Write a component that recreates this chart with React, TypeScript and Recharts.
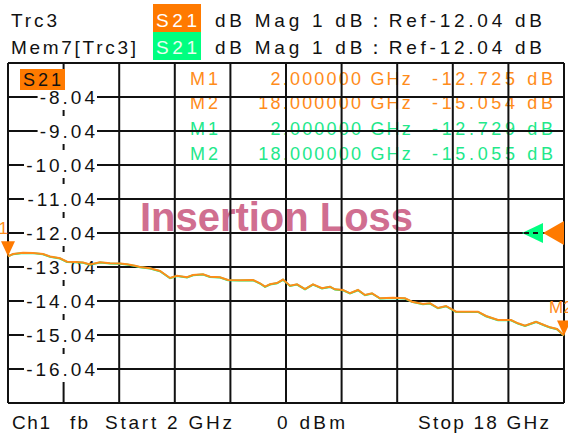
import { LineChart, Line, XAxis, YAxis, CartesianGrid, ReferenceDot } from 'recharts'

// trace, GHz / dB
const freqs = [
  2.0, 2.144, 2.432, 2.719, 3.007, 3.209, 3.496, 3.698, 3.928, 4.158, 4.36, 4.647, 4.935, 5.223,
  5.424, 5.655, 5.799, 6.086, 6.374, 6.662, 6.863, 7.151, 7.324, 7.612, 7.813, 8.101, 8.331,
  8.676, 9.05, 9.252, 9.396, 9.54, 9.741, 9.914, 10.115, 10.317, 10.547, 10.777, 11.036, 11.266,
  11.41, 11.64, 11.842, 12.072, 12.273, 12.475, 12.705, 13.079, 13.424, 13.626, 13.942, 14.144,
  14.374, 14.604, 14.892, 15.237, 15.525, 15.755, 16.101, 16.475, 16.676, 16.878, 17.194, 17.424,
  17.597, 17.799, 18.0,
]
const s21 = [
  -12.725, -12.658, -12.62, -12.628, -12.658, -12.731, -12.784, -12.884, -12.893, -12.908, -12.966,
  -12.902, -12.931, -12.937, -12.961, -13.002, -13.04, -13.078, -13.158, -13.364, -13.296, -13.343,
  -13.275, -13.255, -13.325, -13.343, -13.422, -13.431, -13.422, -13.519, -13.619, -13.549, -13.511,
  -13.408, -13.59, -13.549, -13.687, -13.549, -13.666, -13.619, -13.696, -13.716, -13.813, -13.716,
  -13.864, -13.813, -13.96, -13.943, -13.96, -14.06, -14.128, -14.108, -14.246, -14.187, -14.355,
  -14.355, -14.355, -14.481, -14.599, -14.599, -14.696, -14.766, -14.649, -14.746, -14.814, -14.864,
  -15.054,
]
const mem7 = [
  -12.729, -12.662, -12.626, -12.632, -12.664, -12.736, -12.79, -12.892, -12.9, -12.914, -12.972,
  -12.91, -12.938, -12.944, -12.968, -13.008, -13.046, -13.084, -13.166, -13.37, -13.304, -13.35,
  -13.282, -13.262, -13.332, -13.35, -13.43, -13.438, -13.43, -13.526, -13.626, -13.556, -13.518,
  -13.416, -13.598, -13.556, -13.694, -13.556, -13.674, -13.626, -13.704, -13.724, -13.82, -13.724,
  -13.872, -13.82, -13.968, -13.95, -13.968, -14.066, -14.136, -14.116, -14.254, -14.194, -14.362,
  -14.362, -14.362, -14.488, -14.606, -14.606, -14.704, -14.774, -14.656, -14.754, -14.82, -14.87,
  -15.055,
]

const xTicks = [2, 3.6, 5.2, 6.8, 8.4, 10, 11.6, 13.2, 14.8, 16.4, 18]
const yTicks = [-17.04, -16.04, -15.04, -14.04, -13.04, -12.04, -11.04, -10.04, -9.04, -8.04, -7.04]
const yDomain = [-17.04, -7.04]
const refLevel = -12.04

const markerRows = [
  { name: 'M1', freq: '2.000000 GHz', val: '-12.725 dB', color: '#ff8c1a' },
  { name: 'M2', freq: '18.000000 GHz', val: '-15.054 dB', color: '#ff8c1a' },
  { name: 'M1', freq: '2.000000 GHz', val: '-12.729 dB', color: '#22e88a' },
  { name: 'M2', freq: '18.000000 GHz', val: '-15.055 dB', color: '#22e88a' },
]

const data = freqs.map((f, i) => ({ f, s21: s21[i], mem7: mem7[i] }))

const FONT = '"Liberation Sans", Arial, sans-serif'
const ORANGE = '#ff8c1a'
const GREEN = '#00ff80'

function labelWidth(s: string) {
  let w = 0
  for (const c of s) w += c === '-' ? 9.3 : c === '.' ? 8.3 : 13.6
  return w - 3
}

function YTick(props: any) {
  const { y, payload } = props
  const v = payload.value
  if (v === yTicks[0] || v === yTicks[yTicks.length - 1]) return <g />
  const label = v.toFixed(2)
  const w = labelWidth(label)
  return (
    <g>
      <rect x={95 - w - 2} y={y - 15} width={w + 4} height={28} fill="#fff" />
      <text x={98} y={y + 7} textAnchor="end" fontFamily={FONT} fontSize={19} letterSpacing={3} fill="#111">
        {label}
      </text>
    </g>
  )
}

function MarkerShape({ cx, cy, label, side }: any) {
  return (
    <g>
      <polygon points={`${cx - 7},${cy - 15} ${cx + 7},${cy - 15} ${cx},${cy}`} fill="#ff7a00" />
      <text
        x={side === 'left' ? cx : cx - 15}
        y={cy - 22}
        textAnchor={side === 'left' ? 'end' : 'start'}
        fontFamily={FONT}
        fontSize={17}
        fill={ORANGE}
      >
        {label}
      </text>
    </g>
  )
}

function RefLevelShape({ cx, cy }: any) {
  return (
    <g>
      <polygon points={`${cx - 42},${cy} ${cx - 21},${cy - 10} ${cx - 21},${cy + 10}`} fill={GREEN} />
      <line x1={cx - 40} y1={cy} x2={cx - 22} y2={cy} stroke="#111" strokeWidth={2} strokeDasharray="5 4" />
      <polygon points={`${cx - 21},${cy} ${cx},${cy - 12} ${cx},${cy + 12}`} fill="#ff7a00" />
    </g>
  )
}

const layer = { position: 'absolute' as const, left: 0, top: 0 }

export default function App() {
  return (
    <div style={{ ...layer, width: 568, height: 434, background: '#fff', fontFamily: FONT }}>
      <svg width={568} height={434} style={layer}>
        <text x={11} y={27} fontFamily={FONT} fontSize={19} fill="#111" textLength={46}>Trc3</text>
        <text x={11} y={54} fontFamily={FONT} fontSize={19} fill="#111" textLength={125}>Mem7[Trc3]</text>
        <rect x={153} y={4} width={48} height={28} fill="#ff7a00" />
        <rect x={153} y={32} width={48} height={28} fill="#00ff80" />
        <text x={156} y={27} fontFamily={FONT} fontSize={19} fill="#fff" textLength={41}>S21</text>
        <text x={156} y={54} fontFamily={FONT} fontSize={19} fill="#e8fff0" textLength={41}>S21</text>
        <text x={215} y={27} fontFamily={FONT} fontSize={19} fill="#111" textLength={327}>dB Mag  1 dB：Ref-12.04 dB</text>
        <text x={215} y={54} fontFamily={FONT} fontSize={19} fill="#111" textLength={327}>dB Mag  1 dB：Ref-12.04 dB</text>

        <text x={140} y={231} fontFamily={FONT} fontSize={40} fontWeight={700} fill="#d06e90" textLength={273}>
          Insertion Loss
        </text>

        {markerRows.map((r, i) => {
          const by = [85, 109, 135, 160][i]
          return (
            <g key={i} fontFamily={FONT} fontSize={18} fill={r.color}>
              <text x={190} y={by} textLength={28}>{r.name}</text>
              <text x={413} y={by} textAnchor="end" letterSpacing={2.2}>{r.freq}</text>
              <text x={432} y={by} textLength={121}>{r.val}</text>
            </g>
          )
        })}

        <text x={12} y={429} fontFamily={FONT} fontSize={19} fill="#111" textLength={38}>Ch1</text>
        <text x={70} y={429} fontFamily={FONT} fontSize={19} fill="#111" textLength={18}>fb</text>
        <text x={105} y={429} fontFamily={FONT} fontSize={19} fill="#111" textLength={127}>Start  2 GHz</text>
        <text x={277} y={429} fontFamily={FONT} fontSize={19} fill="#111" textLength={68}>0 dBm</text>
        <text x={418} y={429} fontFamily={FONT} fontSize={19} fill="#111" textLength={131}>Stop  18 GHz</text>
      </svg>

      {/* grid + scale labels (series kept invisible here so the axes get built) */}
      <div style={layer}>
        <LineChart width={568} height={434} data={data} margin={{ top: 63, right: 4, bottom: 30, left: 7 }}>
          <CartesianGrid stroke="#111" strokeWidth={2} />
          <XAxis
            dataKey="f"
            type="number"
            domain={[2, 18]}
            ticks={xTicks}
            interval={0}
            height={1}
            axisLine={false}
            tickLine={false}
            tick={() => <g />}
          />
          <YAxis
            type="number"
            domain={yDomain}
            ticks={yTicks}
            width={1}
            interval={0}
            axisLine={false}
            tickLine={false}
            tick={YTick}
          />
          <Line type="linear" dataKey="s21" stroke="none" dot={false} isAnimationActive={false} />
        </LineChart>
      </div>

      {/* traces and markers on top of the labels */}
      <div style={layer}>
        <LineChart width={568} height={434} data={data} margin={{ top: 63, right: 4, bottom: 31, left: 8 }}>
          <XAxis dataKey="f" type="number" domain={[2, 18]} hide />
          <YAxis type="number" domain={yDomain} hide />
          <Line type="linear" dataKey="mem7" stroke={GREEN} strokeWidth={2} dot={false} isAnimationActive={false} />
          <Line type="linear" dataKey="s21" stroke={ORANGE} strokeWidth={2} dot={false} isAnimationActive={false} />
          <ReferenceDot x={freqs[0]} y={s21[0]} r={0} shape={(p: any) => <MarkerShape {...p} label="M1" side="left" />} />
          <ReferenceDot
            x={freqs[freqs.length - 1]}
            y={s21[s21.length - 1]}
            r={0}
            shape={(p: any) => <MarkerShape {...p} label="M2" side="right" />}
          />
          <ReferenceDot x={18} y={refLevel} r={0} shape={(p: any) => <RefLevelShape {...p} />} />
        </LineChart>
      </div>

      <svg width={568} height={434} style={{ ...layer, pointerEvents: 'none' }}>
        <rect x={20} y={69} width={45} height={21} fill="#ff7a00" />
        <text x={23} y={86} fontFamily={FONT} fontSize={18} fill="#111" textLength={38}>S21</text>
      </svg>
    </div>
  )
}
